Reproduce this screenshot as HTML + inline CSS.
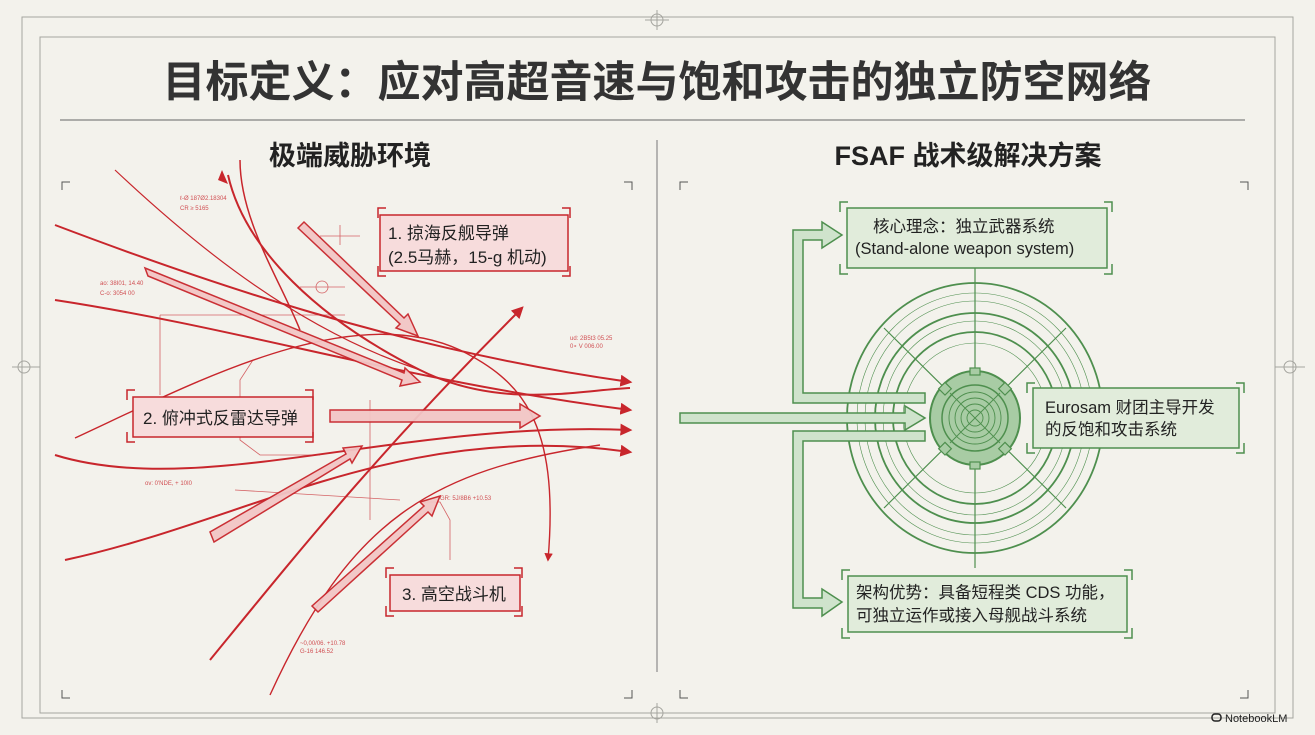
<!DOCTYPE html>
<html><head><meta charset="utf-8"><style>
html,body{margin:0;padding:0;background:#f3f2ec;}
svg{display:block}
text{font-family:"Liberation Sans","Noto Sans CJK SC",sans-serif;}
</style></head><body>
<svg width="1315" height="735" viewBox="0 0 1315 735" xmlns="http://www.w3.org/2000/svg">
<defs>
<marker id="rh" viewBox="0 0 10 10" refX="8" refY="5" markerWidth="6" markerHeight="6" orient="auto"><path d="M0,0L10,5L0,10z" fill="#c8262c"/></marker>
</defs>
<rect width="1315" height="735" fill="#f3f2ec"/>
<g fill="none" stroke="#a5a59f" stroke-width="1">
<rect x="22" y="17" width="1271" height="701"/>
<rect x="40" y="37" width="1235" height="676"/>
<line x1="60" y1="120" x2="1245" y2="120" stroke="#666"/>
<line x1="657" y1="140" x2="657" y2="672" stroke="#777"/>
<circle cx="657" cy="20" r="6"/><line x1="645" y1="20" x2="669" y2="20"/><line x1="657" y1="10" x2="657" y2="30"/>
<circle cx="657" cy="713" r="6"/><line x1="645" y1="713" x2="669" y2="713"/><line x1="657" y1="703" x2="657" y2="723"/>
<circle cx="24" cy="367" r="6"/><line x1="12" y1="367" x2="40" y2="367"/>
<circle cx="1290" cy="367" r="6"/><line x1="1275" y1="367" x2="1305" y2="367"/>
<path d="M62 190v-8h8M624 182h8v8M62 690v8h8M624 698h8v-8M680 190v-8h8M1240 182h8v8M680 690v8h8M1240 698h8v-8" stroke="#555"/>
</g>
<text x="657" y="97" font-size="43" fill="#333" text-anchor="middle" font-weight="bold">目标定义：应对高超音速与饱和攻击的独立防空网络</text>
<text x="350" y="165" font-size="27" fill="#222" text-anchor="middle" font-weight="bold">极端威胁环境</text>
<text x="968" y="165" font-size="27" fill="#222" text-anchor="middle" font-weight="bold">FSAF 战术级解决方案</text>

<g fill="none" stroke="#c8262c" stroke-width="2">
<path d="M55 225 C200 280 400 350 630 382" marker-end="url(#rh)"/>
<path d="M55 300 C250 330 400 380 630 410" marker-end="url(#rh)"/>
<path d="M55 455 C200 500 400 420 630 430" marker-end="url(#rh)"/>
<path d="M65 560 C250 520 400 420 630 452" marker-end="url(#rh)"/>
<path d="M210 660 C300 550 380 450 522 308" marker-end="url(#rh)"/>
<path d="M270 695 C350 520 430 470 600 445" stroke-width="1.4"/>
<path d="M115 170 C200 250 300 330 420 370" stroke-width="1.2"/>
<path d="M75 438 C200 380 350 300 460 350 C520 380 560 420 548 560" stroke-width="1.4" marker-end="url(#rh)"/>
<path d="M240 160 C240 220 280 280 300 330" stroke-width="1.5"/>
<path d="M228 175 C245 250 320 320 420 370 C500 410 580 390 630 388"/>
</g>
<path d="M222 170 l6 14 l-10 -4z" fill="#c8262c"/>
<g fill="none" stroke="#c8262c" stroke-width="0.8" opacity="0.7">
<line x1="160" y1="315" x2="345" y2="315"/><line x1="160" y1="315" x2="160" y2="395"/>
<line x1="235" y1="490" x2="400" y2="500"/><line x1="370" y1="400" x2="370" y2="520"/>
<line x1="320" y1="236" x2="360" y2="236"/><line x1="340" y1="225" x2="340" y2="245"/>
<circle cx="322" cy="287" r="6"/><line x1="300" y1="287" x2="345" y2="287"/>
<path d="M253 360 L240 380 V440 L260 455 H320"/>
<path d="M420 502 H440 L450 520 V560"/>
</g>
<g font-size="6" fill="#c8262c" opacity="0.8">
<text x="180" y="200">ℓ-Ø 187Ø2.18304</text><text x="180" y="210">CR ≥ 5165</text>
<text x="100" y="285">ao: 38I01, 14.40</text><text x="100" y="295">C-o: 3054 00</text>
<text x="570" y="340">ud: 2B5t3 05.25</text><text x="570" y="348">0∘ V 006.00</text>
<text x="145" y="485">ov: 0'NDE, + 10I0</text>
<text x="300" y="645">~0,00/06. +10.78</text><text x="300" y="653">G-16 146.52</text>
<text x="440" y="500">GR: 5J/8B6 +10.53</text>
</g>
<g fill="#f2c6c6" stroke="#c8262c" stroke-width="1.5" opacity="0.95">
<polygon points="145,268 148,276 402,380 400,386 420,382 405,368 404,373"/>
<polygon points="298,228 304,222 404,318 408,314 418,336 396,328 400,324"/>
<polygon points="330,410 520,410 520,404 540,416 520,428 520,422 330,422"/>
<polygon points="214,542 210,532 346,454 343,448 362,446 352,463 350,459"/>
<polygon points="318,612 312,606 424,506 420,502 440,496 432,516 428,512"/>
</g>
<g fill="#f7dcdc" stroke="#c8262c" stroke-width="1.5">
<rect x="380" y="215" width="188" height="56"/>
<rect x="133" y="397" width="180" height="40"/>
<rect x="390" y="575" width="130" height="36"/>
</g>
<g fill="none" stroke="#c8262c" stroke-width="1.5">
<path d="M378 218v-10h8M562 208h8v10M378 266v10h8M562 276h8v-10"/>
<path d="M127 400v-10h8M305 390h8v10M127 432v10h8M305 442h8v-10"/>
<path d="M386 578v-10h8M514 568h8v10M386 606v10h8M514 616h8v-10"/>
</g>
<text x="388" y="239" font-size="17" fill="#222">1. 掠海反舰导弹</text>
<text x="388" y="263" font-size="17" fill="#222">(2.5马赫，15-g 机动)</text>
<text x="143" y="424" font-size="17" fill="#222">2. 俯冲式反雷达导弹</text>
<text x="402" y="600" font-size="17" fill="#222">3. 高空战斗机</text>

<g fill="none" stroke="#4e8f4e">
<ellipse cx="975" cy="418" rx="128" ry="135" stroke-width="1.8"/>
<ellipse cx="975" cy="418" rx="118" ry="125" stroke-width="0.6"/>
<ellipse cx="975" cy="418" rx="110" ry="117" stroke-width="0.6"/>
<ellipse cx="975" cy="418" rx="100" ry="105" stroke-width="1.8"/>
<ellipse cx="975" cy="418" rx="92" ry="97" stroke-width="0.6"/>
<ellipse cx="975" cy="418" rx="82" ry="86" stroke-width="1.8"/>
<ellipse cx="975" cy="418" rx="72" ry="75" stroke-width="0.6"/>
<line x1="975" y1="268" x2="975" y2="568" stroke-width="1.2"/>
<line x1="884" y1="328" x2="1066" y2="508" stroke-width="1.2"/>
<line x1="1066" y1="328" x2="884" y2="508" stroke-width="1.2"/>
</g>
<ellipse cx="975" cy="418" rx="45" ry="47" fill="#a8cca4" stroke="#4e8f4e" stroke-width="2"/>
<g fill="none" stroke="#4e8f4e" stroke-width="0.9">
<circle cx="975" cy="418" r="33" stroke-width="1.5"/><circle cx="975" cy="418" r="26"/><circle cx="975" cy="418" r="20"/><circle cx="975" cy="418" r="14"/><circle cx="975" cy="418" r="8"/>
<line x1="950" y1="393" x2="1000" y2="443"/><line x1="1000" y1="393" x2="950" y2="443"/>
</g>
<g fill="#a8cca4" stroke="#4e8f4e" stroke-width="1.2">
<rect x="970" y="368" width="10" height="7"/><rect x="970" y="462" width="10" height="7"/>
<rect x="941" y="384" width="9" height="9" transform="rotate(45 945 388)"/>
<rect x="1001" y="384" width="9" height="9" transform="rotate(45 1005 388)"/>
<rect x="941" y="444" width="9" height="9" transform="rotate(45 945 448)"/>
<rect x="1001" y="444" width="9" height="9" transform="rotate(45 1005 448)"/>
</g>
<g fill="#cfe3cc" stroke="#4e8f4e" stroke-width="1.5">
<polygon points="680,413 905,413 905,406 925,418 905,430 905,423 680,423"/>
<polygon points="925,403 793,403 793,230 822,230 822,222 842,235 822,248 822,240 803,240 803,393 925,393"/>
<polygon points="925,431 793,431 793,608 822,608 822,616 842,602 822,589 822,598 803,598 803,441 925,441"/>
</g>
<g fill="#e1ecdb" stroke="#4e8f4e" stroke-width="1.5">
<rect x="847" y="208" width="260" height="60"/>
<rect x="1033" y="388" width="206" height="60"/>
<rect x="848" y="576" width="279" height="56"/>
</g>
<g fill="none" stroke="#4e8f4e" stroke-width="1.5">
<path d="M840 212v-10h8M1104 202h8v10M840 264v10h8M1104 274h8v-10"/>
<path d="M1027 393v-10h8M1236 383h8v10M1027 443v10h8M1236 453h8v-10"/>
<path d="M842 580v-10h8M1124 570h8v10M842 628v10h8M1124 638h8v-10"/>
</g>
<text x="873" y="232" font-size="16.5" fill="#222">核心理念：独立武器系统</text>
<text x="855" y="254" font-size="16.5" fill="#222">(Stand-alone weapon system)</text>
<text x="1045" y="413" font-size="16.5" fill="#222">Eurosam 财团主导开发</text>
<text x="1045" y="435" font-size="16.5" fill="#222">的反饱和攻击系统</text>
<text x="856" y="598" font-size="16.5" fill="#222">架构优势：具备短程类 CDS 功能，</text>
<text x="856" y="621" font-size="16.5" fill="#222">可独立运作或接入母舰战斗系统</text>
<text x="1225" y="722" font-size="11" fill="#222">NotebookLM</text>
<rect x="1212" y="714" width="9" height="7" rx="3" fill="none" stroke="#222" stroke-width="1.5"/>
</svg>
</body></html>
